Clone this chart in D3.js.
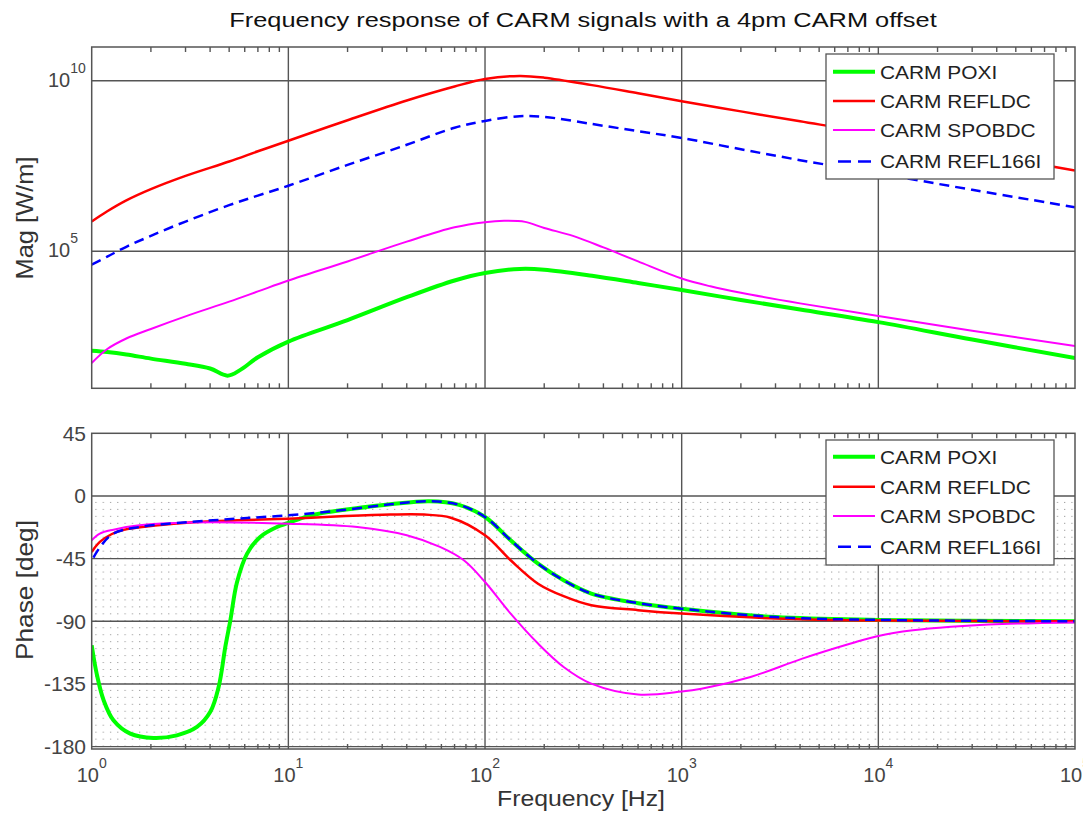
<!DOCTYPE html>
<html><head><meta charset="utf-8">
<script src="https://cdn.jsdelivr.net/npm/d3@7"></script>
<style>body{margin:0;background:#fff;overflow:hidden;} svg{display:block;} text{font-family:"Liberation Sans",Arial,sans-serif;}</style>
</head><body><svg id="c" width="1083" height="813"></svg>
<script>
// ---------------- data ----------------
const titleText = "Frequency response of CARM signals with a 4pm CARM offset";
const xLabel = "Frequency [Hz]";
const magLabel = "Mag [W/m]";
const phaseLabel = "Phase [deg]";
const seriesNames = ["CARM POXI", "CARM REFLDC", "CARM SPOBDC", "CARM REFL166I"];
const seriesColors = ["#00ff00", "#ff0000", "#ff00ff", "#0000ff"];
const xTickValues = [1, 10, 100, 1000, 10000, 100000];
const magTickValues = [1e5, 1e10];
const phaseTickValues = [45, 0, -45, -90, -135, -180];

// magnitude (W/m)
const magFreq = [1,1.2,1.5,2,3,5,7,10,20,40,70,100,150,200,350,600,1000,2000,4000,10000,30000,100000];
const magPoxiFreq = [1,1.2,1.5,2,3,4,4.9,5.7,7,10,20,40,70,100,150,200,350,600,1000,2000,4000,10000,30000,100000];
const magPoxi = [120,110,93.3,70.8,50.1,36.3,22.4,33.1,77.6,224,955,4470,1.38e4,2.29e4,3.02e4,2.88e4,1.91e4,1.17e4,7240,3720,1950,832,257,74.1];
const magRefldc = [7.41e5,1.48e6,3.09e6,6.61e6,1.62e7,4.27e7,8.51e7,1.74e8,6.92e8,2.63e9,6.76e9,1.12e10,1.38e10,1.23e10,7.41e9,4.27e9,2.51e9,1.26e9,6.46e8,2.63e8,7.94e7,2.34e7];
const magSpobdcFreq = [1,1.2,1.5,2,3,5,7,10,20,40,70,100,125,160,200,280,400,600,1000,1400,2000,4000,10000,30000,100000];
const magSpobdc = [52.5,135,275,525,1230,3310,6610,1.38e4,5.01e4,1.91e5,5.01e5,7.08e5,7.76e5,7.24e5,4.79e5,2.82e5,1.29e5,5.01e4,1.58e4,9330,6030,2950,1260,468,166];
const magRefl166i = [4.07e4,6.92e4,1.35e5,2.82e5,7.41e5,2.24e6,4.27e6,8.32e6,3.39e7,1.32e8,4.17e8,6.61e8,9.12e8,8.71e8,5.37e8,3.31e8,2.09e8,9.77e7,4.68e7,1.91e7,6.31e6,1.95e6];

// phase (deg)
const phPoxiFreq = [1,1.06,1.15,1.29,1.57,2.06,2.71,3.43,4.01,4.42,4.78,5.07,5.48,6.17,7.19,8.75,10,12.6,16,18.4,33,52,73,100,135,186,251,347,600,1000,3000,10000,100000];
const phPoxi = [-107.2,-127.6,-146.7,-161.1,-170.7,-173.8,-171.9,-165.9,-155,-137.2,-108.4,-89.3,-62,-41.4,-29.4,-22.3,-19.4,-14.5,-11.5,-10.3,-6,-3.8,-6.2,-15.1,-31.8,-48.6,-60.6,-70.1,-77,-81,-87,-89,-90];
const phRefldcFreq = [1,1.1,1.26,1.47,2.17,3.16,5.5,10,18.4,33,49,67,100,135,186,251,347,600,1000,3000,10000,100000];
const phRefldc = [-40.2,-33,-27.5,-24.2,-21.1,-19.1,-17.5,-16.3,-14.6,-13.4,-13.4,-15.6,-28.2,-46.2,-63,-72,-78.5,-82,-84.5,-88,-89.5,-90];
const phSpobdcFreq = [1,1.1,1.29,1.75,3.16,10,22.4,40,59,78,100,135,186,251,347,600,1000,1260,2240,4070,7240,10000,15000,23400,42600,100000];
const phSpobdc = [-31.8,-27,-24.2,-21.1,-19.1,-19.9,-22.3,-28.2,-36.6,-46.2,-61.8,-84.5,-106,-122.8,-134.8,-142.6,-140.5,-138.5,-130,-117,-106,-100.5,-96.5,-94,-92,-90.8];
const phRefl166iFreq = [1.02,1.12,1.29,1.75,3.16,5.5,10,18.4,33,52,73,100,135,186,251,347,600,1000,3000,10000,100000];
const phRefl166i = [-44.3,-35.4,-27,-22.3,-18.7,-16.3,-13.9,-10.3,-6,-3.8,-6.2,-15.1,-31.8,-48.6,-60.6,-70.1,-77,-81,-87,-89,-90];

// ---------------- drawing ----------------
const svg = d3.select("#c");
const AX = "#555";
const L = 91.7, R = 1075;
const top1 = 47, bot1 = 388.3, top2 = 433.3, bot2 = 749;

const x = d3.scaleLog().domain([1, 1e5]).range([L, R]);
const yMag = d3.scaleLog().domain([10, 1e11]).range([387.6, 46.6]);
const yPh = d3.scaleLinear().domain([-180, 45]).range([746.6, 433.3]);

const defs = svg.append("defs");
defs.append("clipPath").attr("id", "clip1").append("rect").attr("x", L).attr("y", top1).attr("width", R - L).attr("height", bot1 - top1);
defs.append("clipPath").attr("id", "clip2").append("rect").attr("x", L).attr("y", top2).attr("width", R - L).attr("height", bot2 - top2);
const pw = (x(10) - x(1)) / 27, ph = (yPh(-45) - yPh(0)) / 9;
const pat = defs.append("pattern").attr("id", "dots").attr("patternUnits", "userSpaceOnUse")
  .attr("x", L).attr("y", yPh(0)).attr("width", pw).attr("height", ph);
pat.append("rect").attr("x", pw / 2).attr("y", ph - 0.6).attr("width", 1.2).attr("height", 1.2).attr("fill", "#5a5a5a");

// dotted region of the phase plot
svg.append("rect").attr("x", L).attr("y", yPh(0)).attr("width", R - L).attr("height", bot2 - yPh(0)).attr("fill", "url(#dots)");

// grids
const decades = [10, 100, 1000, 10000];
function panelGrid(t, b, hVals, yS) {
  const g = svg.append("g").attr("stroke", AX).attr("stroke-width", 1.4);
  decades.forEach(d => g.append("line").attr("x1", x(d)).attr("x2", x(d)).attr("y1", t).attr("y2", b));
  hVals.forEach(v => g.append("line").attr("x1", L).attr("x2", R).attr("y1", yS(v)).attr("y2", yS(v)));
  const minors = [];
  for (let e = 0; e < 5; e++) for (let k = 2; k <= 9; k++) minors.push(k * Math.pow(10, e));
  minors.forEach(m => {
    g.append("line").attr("x1", x(m)).attr("x2", x(m)).attr("y1", t).attr("y2", t + 5);
    g.append("line").attr("x1", x(m)).attr("x2", x(m)).attr("y1", b).attr("y2", b - 5);
  });
}
panelGrid(top1, bot1, magTickValues, yMag);
panelGrid(top2, bot2, [0, -45, -90, -135, -180], yPh);

// series
const magSeries = [
  { f: magPoxiFreq, v: magPoxi }, { f: magFreq, v: magRefldc },
  { f: magSpobdcFreq, v: magSpobdc }, { f: magFreq, v: magRefl166i }];
const phSeries = [
  { f: phPoxiFreq, v: phPoxi }, { f: phRefldcFreq, v: phRefldc },
  { f: phSpobdcFreq, v: phSpobdc }, { f: phRefl166iFreq, v: phRefl166i }];
const widths = [4, 2.5, 2, 2.5];
const dashes = [null, null, null, "10,6"];

function drawLines(series, yS, clip) {
  const g = svg.append("g").attr("clip-path", `url(#${clip})`);
  series.forEach((s, i) => {
    const pts = s.f.map((f, j) => [x(f), yS(s.v[j])]);
    g.append("path").attr("d", d3.line().curve(d3.curveCatmullRom.alpha(0.5))(pts))
      .attr("fill", "none").attr("stroke", seriesColors[i]).attr("stroke-width", widths[i])
      .attr("stroke-linejoin", "round").attr("stroke-dasharray", dashes[i]);
  });
}
drawLines(magSeries, yMag, "clip1");
drawLines(phSeries, yPh, "clip2");

// borders
[[top1, bot1], [top2, bot2]].forEach(([t, b]) => {
  svg.append("rect").attr("x", L).attr("y", t).attr("width", R - L).attr("height", b - t)
    .attr("fill", "none").attr("stroke", AX).attr("stroke-width", 1.5);
});

function fitText(sel, cx, cy, target, rot) {
  const len = sel.node().getComputedTextLength();
  const s = target / len;
  sel.attr("x", 0).attr("y", 0)
    .attr("transform", `translate(${cx},${cy})${rot ? " rotate(" + rot + ")" : ""} scale(${s},1)`);
}

// tick labels
const TC = "#444";
function powLabel(g, xPos, yPos, exp, anchor, size, esize) {
  const t = g.append("text").attr("x", xPos).attr("y", yPos).attr("text-anchor", anchor)
    .attr("fill", TC).attr("font-size", size);
  t.append("tspan").text("10");
  t.append("tspan").attr("dy", -14).attr("font-size", esize).text(String(exp));
  return t;
}
const tl = svg.append("g");
xTickValues.forEach(v => powLabel(tl, x(v), 782, Math.round(Math.log10(v)), "middle", 20, 14));
magTickValues.forEach(v => powLabel(tl, 48, yMag(v) + 6, Math.round(Math.log10(v)), "start", 20, 14));
phaseTickValues.forEach(v => tl.append("text").attr("x", 86).attr("y", yPh(v) + 7.5)
  .attr("text-anchor", "end").attr("fill", TC).attr("font-size", 21).text(String(v)));

// title & axis labels
const tt = svg.append("text").attr("text-anchor", "middle").attr("font-size", 21).attr("fill", "#111").text(titleText);
fitText(tt, 583, 27, 708);
const xl = svg.append("text").attr("text-anchor", "middle").attr("font-size", 22).attr("fill", "#333").text(xLabel);
fitText(xl, 581, 806, 168);
const ml = svg.append("text").attr("text-anchor", "middle").attr("font-size", 23).attr("fill", "#333").text(magLabel);
fitText(ml, 33, 218, 123, -90);
const pl = svg.append("text").attr("text-anchor", "middle").attr("font-size", 23).attr("fill", "#333").text(phaseLabel);
fitText(pl, 33, 590, 140, -90);

// legends
function legend(bx, by, rowY) {
  const g = svg.append("g");
  g.append("rect").attr("x", bx).attr("y", by).attr("width", 228).attr("height", 125)
    .attr("fill", "#fff").attr("stroke", AX).attr("stroke-width", 1.3);
  seriesNames.forEach((n, i) => {
    const yy = rowY[i];
    if (i === 3) {
      g.append("line").attr("x1", 838).attr("x2", 872).attr("y1", yy).attr("y2", yy)
        .attr("stroke", seriesColors[i]).attr("stroke-width", 2.5).attr("stroke-dasharray", "13,7");
    } else {
      g.append("line").attr("x1", 833).attr("x2", 875).attr("y1", yy).attr("y2", yy)
        .attr("stroke", seriesColors[i]).attr("stroke-width", widths[i]);
    }
    g.append("text").attr("font-size", 19).attr("fill", "#222").text(n)
      .attr("x", 0).attr("y", 0).attr("transform", `translate(880,${yy + 6.8}) scale(1.1,1)`);
  });
}
legend(826, 54, [71.7, 101, 130, 161.5]);
legend(826, 440, [456.7, 486.7, 516, 546.7]);
</script></body></html>
